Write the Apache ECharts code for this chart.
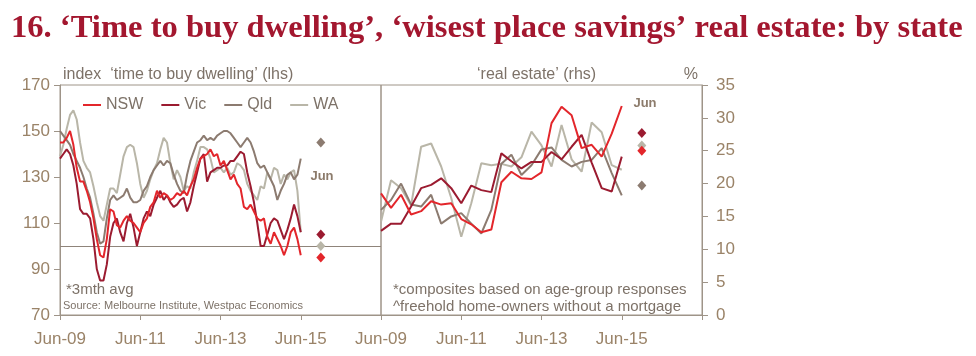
<!DOCTYPE html>
<html><head><meta charset="utf-8">
<script src="https://cdn.jsdelivr.net/npm/echarts@6/dist/echarts.min.js"></script>
<style>html,body{margin:0;padding:0;background:#fff}#c{width:976px;height:356px}</style>
</head><body><div id="c"></div>
<script>
// ---- categories ----
const MON = ['Jan','Feb','Mar','Apr','May','Jun','Jul','Aug','Sep','Oct','Nov','Dec'];
function lab(k){ return MON[k % 12] + '-' + String(9 + Math.floor(k / 12)).padStart(2,'0'); }
const monthCats = [];   // Jun-09 .. Jun-17 monthly
for (let i = 0; i <= 96; i++) monthCats.push(lab(5 + i));
const quarterCats = []; // Jun-09 .. Jun-17 quarterly
for (let i = 0; i <= 32; i++) quarterCats.push(lab(5 + 3 * i));
const diamondCat = 'Dec-15';

// ---- 'time to buy dwelling' index, monthly Jun-09 .. Jun-15 (3mth avg) ----
const nswTime = [145,145,147,150,144,134,128,128,124,119, 112,103,96,95,103,116,115,109,108,111,
  113,111,110,108,106,110,112,117,119,124, 121,123,122,120,121,123,122,124,122,126,
  129,134,138,139,140,142,139,140,135,137, 133,129,131,127,125,117,116,118,115,112,
  111,112,104,101,106,103,100,96,100,106, 108,103,96];
const vicTime = [138,140,142,140,135,127,116,114,114,112, 103,90,85,85,92,104,110,112,106,102,
  110,114,108,100,106,112,115,113,118,121, 124,120,122,119,117,118,120,121,115,119,
  126,132,138,140,128,132,133,134,134,135, 135,137,137,139,141,140,132,126,119,110,
  100,100,105,110,112,111,107,103,107,112, 118,113,106];
const qldTime = [150,148,146,144,140,137,134,130,125,121, 114,106,101,102,112,120,122,120,121,122,
  125,121,119,119,120,124,126,130,133,135, 137,135,137,136,131,127,124,123,131,137,
  141,145,146,148,146,147,146,148,149,150, 150,149,147,145,143,145,147,145,141,136,
  134,135,132,129,126,120,124,127,131,132, 129,131,138];
const waTime = [139,144,151,157,159,155,145,137,134,132, 126,119,113,111,118,125,125,123,131,139,
  143,144,143,136,127,121,124,129,133,136, 142,147,145,136,129,133,130,124,126,125,
  132,137,143,143,142,138,132,133,134,132, 134,131,132,136,135,133,127,124,122,120,
  126,125,132,129,134,133,127,131,129,132, 133,124,106];
// Jun diamonds (lhs)
const timeJun = {NSW: 95, Vic: 105, Qld: 145, WA: 100};

// ---- 'wisest place for savings: real estate' %, quarterly Jun-09 .. Jun-15 ----
const nswReal = [18.5,16.3,18.3,15.3,15.8,17.3,16.8,17.0,14.6,13.8,12.6,13.0,20.2,21.8,20.8,20.7,21.7,29.2,31.7,30.4,25.4,25.9,24.1,27.6,31.8];
const vicReal = [12.8,13.9,13.9,16.5,19.3,19.8,20.8,19.3,17.0,19.7,19.0,18.7,24.6,23.4,22.3,23.3,23.3,24.8,23.7,25.6,27.4,23.2,19.3,18.8,24.1];
const qldReal = [16.0,17.5,20.0,16.8,16.5,18.3,13.9,15.0,15.5,13.9,12.4,16.0,23.0,24.4,21.3,22.8,25.2,25.5,23.6,22.6,23.3,23.6,25.4,21.6,18.2];
const waReal  = [14.2,20.5,19.3,16.7,25.6,26.1,22.6,17.8,11.9,17.0,23.1,22.8,23.0,22.6,24.0,27.9,25.8,22.6,28.9,23.7,21.8,29.3,27.8,22.8,22.1];
const realJun = {NSW: 25.0, Vic: 27.7, Qld: 19.7, WA: 25.8};

const states = ['NSW','Vic','Qld','WA'];
const colors = {NSW:'#e3262b', Vic:'#9b1b30', Qld:'#8c7b70', WA:'#b9b6a8'};
const timeData = {NSW: nswTime, Vic: vicTime, Qld: qldTime, WA: waTime};
const realData = {NSW: nswReal, Vic: vicReal, Qld: qldReal, WA: waReal};

const AX = '#9e9488';
const LBL = '#9a8368';
const TXT = '#7d7268';
const SANS = 'Liberation Sans, Arial, sans-serif';

const drawOrder = ['WA','Qld','Vic','NSW'];
const series = [];
drawOrder.forEach((s, k) => {
  const l = {name: s, type: 'line', xAxisIndex: 0, yAxisIndex: 0, data: timeData[s], symbol: 'none',
    lineStyle: {width: 2, color: colors[s]}, itemStyle: {color: colors[s]}, z: 3 + k};
  if (s === 'NSW') {
    l.markLine = {silent: true, symbol: ['none','none'], label: {show: false},
      lineStyle: {color: '#8f847a', width: 1, type: 'solid'}, data: [{yAxis: 100}]};
  }
  series.push(l);
  series.push({name: s, type: 'line', xAxisIndex: 1, yAxisIndex: 1, data: realData[s], symbol: 'none',
    lineStyle: {width: 2, color: colors[s]}, itemStyle: {color: colors[s]}, z: 3 + k});
});
['Qld','WA','Vic','NSW'].forEach((s) => {
  series.push({type: 'scatter', xAxisIndex: 0, yAxisIndex: 0, symbol: 'diamond', symbolSize: [9, 10],
    data: [[diamondCat, timeJun[s]]], itemStyle: {color: colors[s], opacity: 1}, z: 10});
  series.push({type: 'scatter', xAxisIndex: 1, yAxisIndex: 1, symbol: 'diamond', symbolSize: [9, 10],
    data: [[diamondCat, realJun[s]]], itemStyle: {color: colors[s], opacity: 1}, z: 10});
});

function xAx(idx, cats, step) {
  const last = cats.length - 1;
  return {type: 'category', gridIndex: idx, data: cats, boundaryGap: false,
    axisLine: {show: true, lineStyle: {color: AX, width: 1}},
    axisTick: {show: true, length: 5, lineStyle: {color: AX}, interval: (i) => i % step === 0},
    axisLabel: {show: true, color: LBL, fontSize: 17, fontFamily: SANS, margin: 16,
      interval: (i) => i % step === 0 && i < last},
    splitLine: {show: false}};
}

const option = {
  animation: false,
  backgroundColor: '#fff',
  title: {text: '16. ‘Time to buy dwelling’, ‘wisest place savings’ real estate: by state',
    left: 6, top: 7,
    textStyle: {fontFamily: 'Liberation Serif, serif', fontWeight: 'bold', fontSize: 32.6, color: '#a3172f'}},
  legend: {data: states, left: 78, top: 92, icon: 'rect', itemWidth: 18, itemHeight: 2, itemGap: 18,
    textStyle: {color: TXT, fontSize: 16, fontFamily: SANS}},
  grid: [
    {left: 60, top: 85, width: 321, height: 230, show: true, borderColor: AX, borderWidth: 1, containLabel: false},
    {left: 381, top: 85, width: 321, height: 230, show: true, borderColor: AX, borderWidth: 1, containLabel: false}
  ],
  xAxis: [xAx(0, monthCats, 24), xAx(1, quarterCats, 8)],
  yAxis: [
    {type: 'value', gridIndex: 0, min: 70, max: 170, interval: 20, position: 'left',
      axisLine: {show: true, lineStyle: {color: AX}},
      axisTick: {show: true, length: 6, lineStyle: {color: AX}},
      axisLabel: {color: LBL, fontSize: 17, fontFamily: SANS, margin: 10},
      splitLine: {show: false}},
    {type: 'value', gridIndex: 1, min: 0, max: 35, interval: 5, position: 'right',
      axisLine: {show: true, lineStyle: {color: AX}},
      axisTick: {show: true, length: 6, lineStyle: {color: AX}},
      axisLabel: {color: LBL, fontSize: 17, fontFamily: SANS, margin: 14},
      splitLine: {show: false}}
  ],
  series: series,
  graphic: [
    {type: 'text', x: 63, y: 75, style: {text: 'index  ‘time to buy dwelling’ (lhs)', fill: TXT, font: '16px ' + SANS, verticalAlign: 'middle'}},
    {type: 'text', x: 477, y: 75, style: {text: '‘real estate’ (rhs)', fill: TXT, font: '16px ' + SANS, verticalAlign: 'middle'}},
    {type: 'text', x: 698, y: 75, style: {text: '%', fill: TXT, font: '16px ' + SANS, align: 'right', verticalAlign: 'middle'}},
    {type: 'text', x: 322, y: 176, style: {text: 'Jun', fill: '#8c7b6b', font: 'bold 13px ' + SANS, align: 'center', verticalAlign: 'middle'}},
    {type: 'text', x: 645, y: 103, style: {text: 'Jun', fill: '#8c7b6b', font: 'bold 13px ' + SANS, align: 'center', verticalAlign: 'middle'}},
    {type: 'text', x: 66, y: 290, style: {text: '*3mth avg', fill: TXT, font: '15px ' + SANS, verticalAlign: 'middle'}},
    {type: 'text', x: 63, y: 306, style: {text: 'Source: Melbourne Institute, Westpac Economics', fill: TXT, font: '11px ' + SANS, verticalAlign: 'middle'}},
    {type: 'text', x: 393, y: 290, style: {text: '*composites based on age-group responses', fill: TXT, font: '15px ' + SANS, verticalAlign: 'middle'}},
    {type: 'text', x: 393, y: 307, style: {text: '^freehold home-owners without a mortgage', fill: TXT, font: '15px ' + SANS, verticalAlign: 'middle'}}
  ]
};
const chart = echarts.init(document.getElementById('c'), null, {renderer: 'canvas'});
chart.setOption(option);
</script></body></html>
